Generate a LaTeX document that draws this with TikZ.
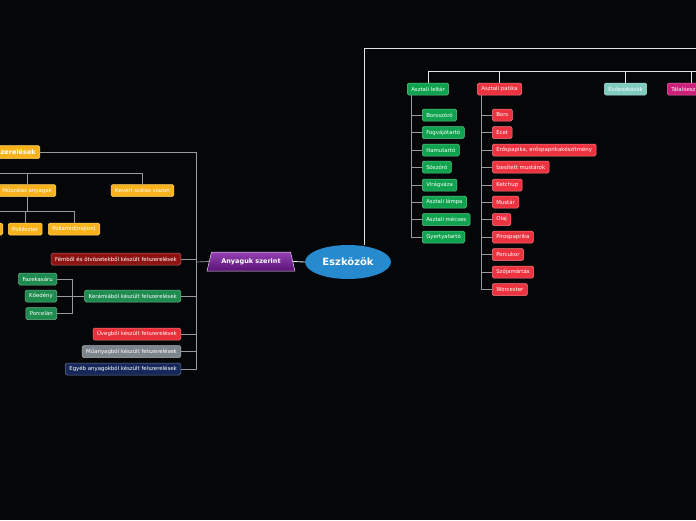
\documentclass[tikz,border=0pt]{standalone}
\usepackage{fontspec}
\setmainfont{DejaVu Sans}
\usepackage{xcolor}
\definecolor{Hatter}{HTML}{050608}
\definecolor{Vonal}{HTML}{9A9A9A}
\definecolor{KozpontKek}{HTML}{2789CE}
\definecolor{LilaFelso}{HTML}{9442B4}
\definecolor{LilaAlso}{HTML}{5A1274}
\definecolor{LeltarZold}{HTML}{0FA34F}
\definecolor{PatikaPiros}{HTML}{EE3340}
\definecolor{EvoTurkiz}{HTML}{80CBC0}
\definecolor{TalaloMagenta}{HTML}{CC1F7A}
\definecolor{TextilSarga}{HTML}{F8B31C}
\definecolor{FemBordo}{HTML}{8E1414}
\definecolor{KeramiaZold}{HTML}{1E8B4F}
\definecolor{UvegPiros}{HTML}{E92F3A}
\definecolor{MuanyagSzurke}{HTML}{7C848C}
\definecolor{EgyebKek}{HTML}{16285A}
\usetikzlibrary{shapes.geometric}

\begin{document}
\begin{tikzpicture}[
    x=1pt, y=-1pt,
    every node/.style={text=white},
    box/.style={rectangle, rounded corners=1.5pt, line width=0.5pt, minimum height=12pt, inner xsep=4pt, inner ysep=0pt, font=\fontsize{5.4}{6}\selectfont},
    kbox/.style={box, fill=#1, draw=#1!65!white},
    vonal/.style={draw=Vonal, line width=0.7pt},
    fovonal/.style={draw=white!90!black, line width=0.9pt},
]
\useasboundingbox (0,0) rectangle (696,520);
\fill[Hatter] (0,0) rectangle (696,520);
\clip (0,0) rectangle (696,520);

% Kozpont
\node[ellipse, fill=KozpontKek, minimum width=86pt, minimum height=34pt, font=\bfseries\fontsize{10}{12}\selectfont] (eszkozok) at (348,262) {Eszközök};
\node[trapezium, trapezium stretches=true, trapezium left angle=74, trapezium right angle=74, minimum width=88pt, minimum height=19pt, top color=LilaFelso, bottom color=LilaAlso, draw=white!75!LilaFelso, line width=0.5pt, font=\bfseries\fontsize{6.5}{8}\selectfont] (anyag) at (251,261.5) {Anyaguk szerint};

% Felso sor
\node[kbox=LeltarZold] (leltar) at (428,89) {Asztali leltár};
\node[kbox=PatikaPiros] (patika) at (499.5,89) {Asztali patika};
\node[kbox=EvoTurkiz] (evo) at (625.5,89) {Evőeszközök};
\node[kbox=TalaloMagenta, anchor=west] (talalo) at (667,89) {Tálalóeszközök};

% Asztali leltar
\node[kbox=LeltarZold, anchor=west] (borsszoro) at (422,115) {Borsszóró};
\node[kbox=LeltarZold, anchor=west] (fogvajo) at (422,132.5) {Fogvájótartó};
\node[kbox=LeltarZold, anchor=west] (hamu) at (422,150) {Hamutartó};
\node[kbox=LeltarZold, anchor=west] (soszoro) at (422,167) {Sószóró};
\node[kbox=LeltarZold, anchor=west] (viragvaza) at (422,185) {Virágváza};
\node[kbox=LeltarZold, anchor=west] (lampa) at (422,202) {Asztali lámpa};
\node[kbox=LeltarZold, anchor=west] (mecses) at (422,219.5) {Asztali mécses};
\node[kbox=LeltarZold, anchor=west] (gyertya) at (422,237) {Gyertyatartó};

% Asztali patika
\node[kbox=PatikaPiros, anchor=west] (bors) at (492,115) {Bors};
\node[kbox=PatikaPiros, anchor=west] (ecet) at (492,132.5) {Ecet};
\node[kbox=PatikaPiros, anchor=west] (erospap) at (492,150) {Erőspapika, erőspaprikakészítmény};
\node[kbox=PatikaPiros, anchor=west] (mustarok) at (492,167) {Ízesített mustárok};
\node[kbox=PatikaPiros, anchor=west] (ketchup) at (492,185) {Ketchup};
\node[kbox=PatikaPiros, anchor=west] (mustar) at (492,202) {Mustár};
\node[kbox=PatikaPiros, anchor=west] (olaj) at (492,219.5) {Olaj};
\node[kbox=PatikaPiros, anchor=west] (pirospap) at (492,237) {Pirospaprika};
\node[kbox=PatikaPiros, anchor=west] (porcukor) at (492,254.5) {Porcukor};
\node[kbox=PatikaPiros, anchor=west] (szoja) at (492,272) {Szójamártás};
\node[kbox=PatikaPiros, anchor=west] (worcester) at (492,289.5) {Worcester};

% Anyaguk szerint
\node[kbox=TextilSarga, anchor=east, minimum height=13pt, font=\bfseries\fontsize{6.5}{8}\selectfont] (textil) at (40,152) {Textilből készült felszerelések};
\node[kbox=TextilSarga, anchor=east] (muszalas) at (56,190.5) {Műszálas anyagok};
\node[kbox=TextilSarga] (kevert) at (142.5,190.5) {Kevert szálas viszon};
\node[kbox=TextilSarga, anchor=east, minimum width=30pt] (textilx) at (3,229) {};
\node[kbox=TextilSarga, anchor=west] (poliesz) at (8,229) {Poliészter};
\node[kbox=TextilSarga, anchor=west] (poliamid) at (48,229) {Poliamid(nejlon)};
\node[kbox=FemBordo, anchor=east] (fem) at (181,259) {Fémből és ötvözetekből készült felszerelések};
\node[kbox=KeramiaZold, anchor=east] (keramia) at (181,296) {Kerámiából készült felszerelések};
\node[kbox=UvegPiros, anchor=east] (uveg) at (181,334) {Üvegből készült felszerelések};
\node[kbox=MuanyagSzurke, anchor=east] (muanyag) at (181,351.5) {Műanyagból készült felszerelések};
\node[kbox=EgyebKek, anchor=east] (egyeb) at (181,369) {Egyéb anyagokból készült felszerelések};
\node[kbox=KeramiaZold, anchor=east] (fazekas) at (57,279) {Fazekasáru};
\node[kbox=KeramiaZold, anchor=east] (koedeny) at (57,296) {Kőedény};
\node[kbox=KeramiaZold, anchor=east] (porcelan) at (57,313.5) {Porcelán};

% Vonalak
\coordinate (fent) at (364,48);
\coordinate (fentki) at (710,48);
\coordinate (sorki) at (710,71);
\coordinate (leltarsin) at (411,95);
\coordinate (patikasin) at (481,95);
\coordinate (balsin) at (196,262);
\coordinate (keramiasin) at (72,296);
\coordinate (textilsin) at (-10,173);
\coordinate (muszalassin) at (-10,211);

\draw[fovonal] (fent |- eszkozok.north) -- (fent) -- (fentki);
\draw[fovonal] (eszkozok.west) -- (anyag.east);
\draw[vonal] (anyag.west) -- (balsin);
\draw[fovonal] (leltar.north) |- (sorki);
\draw[fovonal] (patika.north) -- (patika.north |- sorki);
\draw[fovonal] (evo.north) -- (evo.north |- sorki);
\draw[fovonal] (talalo.north) -- (talalo.north |- sorki);
\foreach \n in {borsszoro,fogvajo,hamu,soszoro,viragvaza,lampa,mecses,gyertya}
    \draw[vonal] (leltarsin) |- (\n.west);
\foreach \n in {bors,ecet,erospap,mustarok,ketchup,mustar,olaj,pirospap,porcukor,szoja,worcester}
    \draw[vonal] (patikasin) |- (\n.west);
\draw[vonal] (textil.east) -| (balsin);
\foreach \n in {fem,keramia,uveg,muanyag,egyeb}
    \draw[vonal] (balsin) |- (\n.east);
\draw[vonal] (keramia.west) -- (keramiasin);
\foreach \n in {fazekas,koedeny,porcelan}
    \draw[vonal] (\n.east) -| (keramiasin);
\draw[vonal] (textilsin) -| (kevert.north);
\draw[vonal] (textilsin -| muszalas.north) -- (muszalas.north);
\draw[vonal] (muszalas.south) -- (muszalas.south |- muszalassin);
\draw[vonal] (muszalassin) -| (poliamid.north);
\draw[vonal] (muszalassin -| poliesz.north) -- (poliesz.north);

\end{tikzpicture}
\end{document}
